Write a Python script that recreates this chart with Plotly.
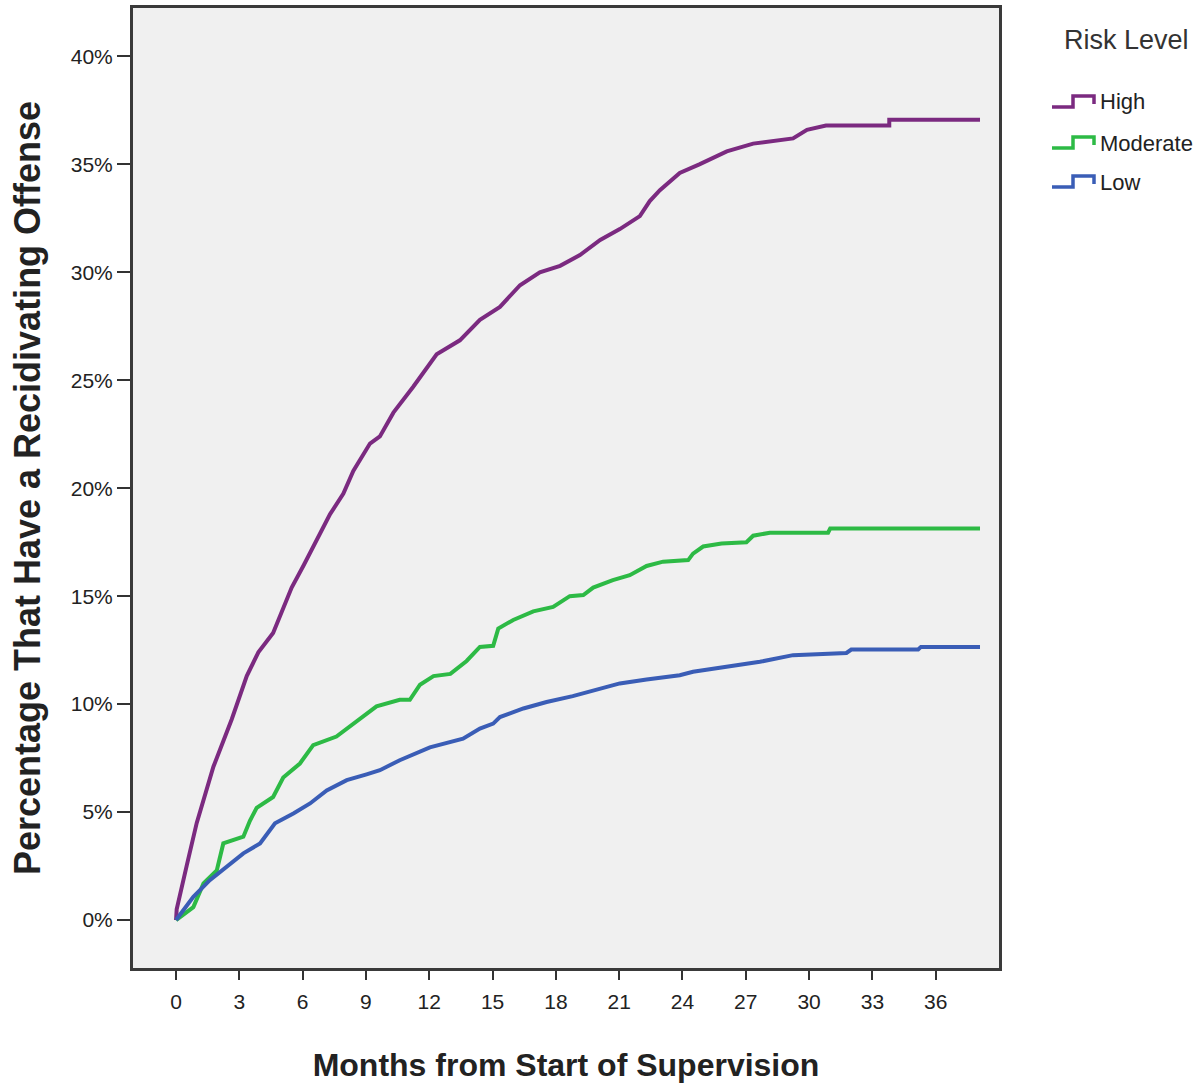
import plotly.graph_objects as go

# ---- data (months, cumulative % recidivating) ----
high_months = [0, 0.03, 0.5, 0.98, 1.77, 2.64, 3.35, 3.9, 4.6, 5.08, 5.48, 6.03, 6.66, 7.3, 7.93,
               8.4, 9.19, 9.66, 10.3, 11.24, 12.35, 13.45, 14.4, 15.35, 16.3, 17.24, 18.2, 19.14,
               20.1, 21.03, 21.98, 22.45, 22.93, 23.87, 24.8, 26.1, 27.35, 29.24, 29.9, 30.8,
               33.8, 33.8, 38.1]
high_pct = [0, 0.5, 2.5, 4.5, 7.1, 9.3, 11.3, 12.4, 13.3, 14.5, 15.4, 16.4, 17.6, 18.8, 19.75,
            20.8, 22.07, 22.4, 23.5, 24.7, 26.2, 26.85, 27.8, 28.4, 29.4, 30.0, 30.3, 30.8,
            31.5, 32.0, 32.6, 33.3, 33.8, 34.6, 35.0, 35.6, 35.96, 36.2, 36.6, 36.8,
            36.8, 37.06, 37.06]

mod_months = [0, 0.82, 1.3, 1.93, 2.24, 3.19, 3.5, 3.82, 4.6, 5.08, 5.87, 6.5, 7.6, 8.56, 9.5,
              10.6, 11.08, 11.56, 12.2, 13.0, 13.77, 14.4, 15.03, 15.27, 15.98, 16.93, 17.87,
              18.66, 19.3, 19.77, 20.7, 21.5, 22.3, 23.08, 24.27, 24.5, 24.98, 25.85, 27.03,
              27.35, 28.14, 30.9, 31.0, 38.1]
mod_pct = [0, 0.6, 1.7, 2.3, 3.55, 3.86, 4.6, 5.2, 5.7, 6.6, 7.25, 8.1, 8.5, 9.2, 9.9,
           10.2, 10.2, 10.9, 11.3, 11.4, 12.0, 12.65, 12.7, 13.5, 13.9, 14.3, 14.5,
           15.0, 15.05, 15.4, 15.74, 15.97, 16.4, 16.6, 16.67, 16.97, 17.3, 17.44, 17.5,
           17.8, 17.94, 17.94, 18.13, 18.13]

low_months = [0, 0.82, 1.6, 2.4, 3.19, 3.98, 4.69, 5.56, 6.35, 7.14, 8.09, 9.03, 9.66, 10.6,
              12.03, 13.6, 14.4, 15.03, 15.35, 16.46, 17.56, 18.8, 19.93, 21.03, 22.3, 23.87,
              24.5, 26.1, 27.67, 29.24, 31.77, 32.0, 35.17, 35.3, 38.1]
low_pct = [0, 1.08, 1.85, 2.47, 3.09, 3.55, 4.48, 4.94, 5.4, 6.0, 6.48, 6.75, 6.94, 7.4,
           8.0, 8.4, 8.87, 9.1, 9.4, 9.8, 10.1, 10.37, 10.65, 10.96, 11.14, 11.34,
           11.5, 11.73, 11.96, 12.27, 12.37, 12.53, 12.53, 12.65, 12.65]

series_names = ["High", "Moderate", "Low"]
series_colors = ["#7b2a80", "#2dba45", "#3a5db6"]

x_ticks = list(range(0, 37, 3))
y_ticks = list(range(0, 41, 5))
y_tick_labels = [f"{v}%" for v in y_ticks]

# ---- figure ----
W, H = 1200, 1085
L, R, T, B = 133, 999, 8, 968  # plot area pixel box

fig = go.Figure()
for name, xs, ys, col in zip(series_names,
                             [high_months, mod_months, low_months],
                             [high_pct, mod_pct, low_pct],
                             series_colors):
    fig.add_trace(go.Scatter(x=xs, y=ys, mode="lines", name=name,
                             line=dict(color=col, width=4), showlegend=False,
                             hoverinfo="x+y+name"))

font_main = "Liberation Sans, Arial, sans-serif"

fig.update_layout(
    width=W, height=H,
    margin=dict(l=L, r=W - R, t=T, b=H - B, pad=0),
    paper_bgcolor="white",
    plot_bgcolor="#f0f0f0",
    font=dict(family=font_main, color="#222222", size=21),
    xaxis=dict(
        range=[-2.04, 39.0], tickvals=x_ticks, ticks="outside", ticklen=9, tickwidth=2,
        tickcolor="#333333", showgrid=False, zeroline=False,
        showline=True, mirror=True, linecolor="#3a3a3a", linewidth=3,
        tickfont=dict(size=21, color="#222222"), ticklabelstandoff=4,
        title=dict(text="<b>Months from Start of Supervision</b>",
                   font=dict(size=32, color="#222222"), standoff=42),
        automargin=False,
    ),
    yaxis=dict(
        range=[-2.22, 42.24], tickvals=y_ticks, ticktext=y_tick_labels, ticks="outside",
        ticklen=13, tickwidth=2, tickcolor="#333333", showgrid=False, zeroline=False,
        showline=True, mirror=True, linecolor="#3a3a3a", linewidth=3,
        tickfont=dict(size=21, color="#222222"),
        title=dict(text="<b>Percentage That Have a Recidivating Offense</b>",
                   font=dict(size=36, color="#222222"), standoff=20),
        automargin=False,
    ),
)

# ---- custom legend with step-shaped icons ----
def px_x(p):
    return (p - L) / (R - L)

def px_y(p):
    return (B - p) / (B - T)

fig.add_annotation(x=px_x(1126), y=px_y(40), xref="paper", yref="paper", text="Risk Level",
                   showarrow=False, font=dict(size=27, color="#333333"),
                   xanchor="center", yanchor="middle")

legend_rows = [102, 143, 182]
for name, col, yc in zip(series_names, series_colors, legend_rows):
    path = (f"M {px_x(1052)} {px_y(yc + 5)} L {px_x(1073)} {px_y(yc + 5)} "
            f"L {px_x(1073)} {px_y(yc - 6)} L {px_x(1094)} {px_y(yc - 6)} "
            f"L {px_x(1094)} {px_y(yc + 2)}")
    fig.add_shape(type="path", path=path, xref="paper", yref="paper",
                  line=dict(color=col, width=3.5))
    fig.add_annotation(x=px_x(1098), y=px_y(yc), xref="paper", yref="paper", text=name,
                       showarrow=False, font=dict(size=22, color="#222222"),
                       xanchor="left", yanchor="middle")

fig.write_html("out.html", config={"displayModeBar": False},
               post_script="document.body.style.margin='0';document.body.style.padding='0';")
